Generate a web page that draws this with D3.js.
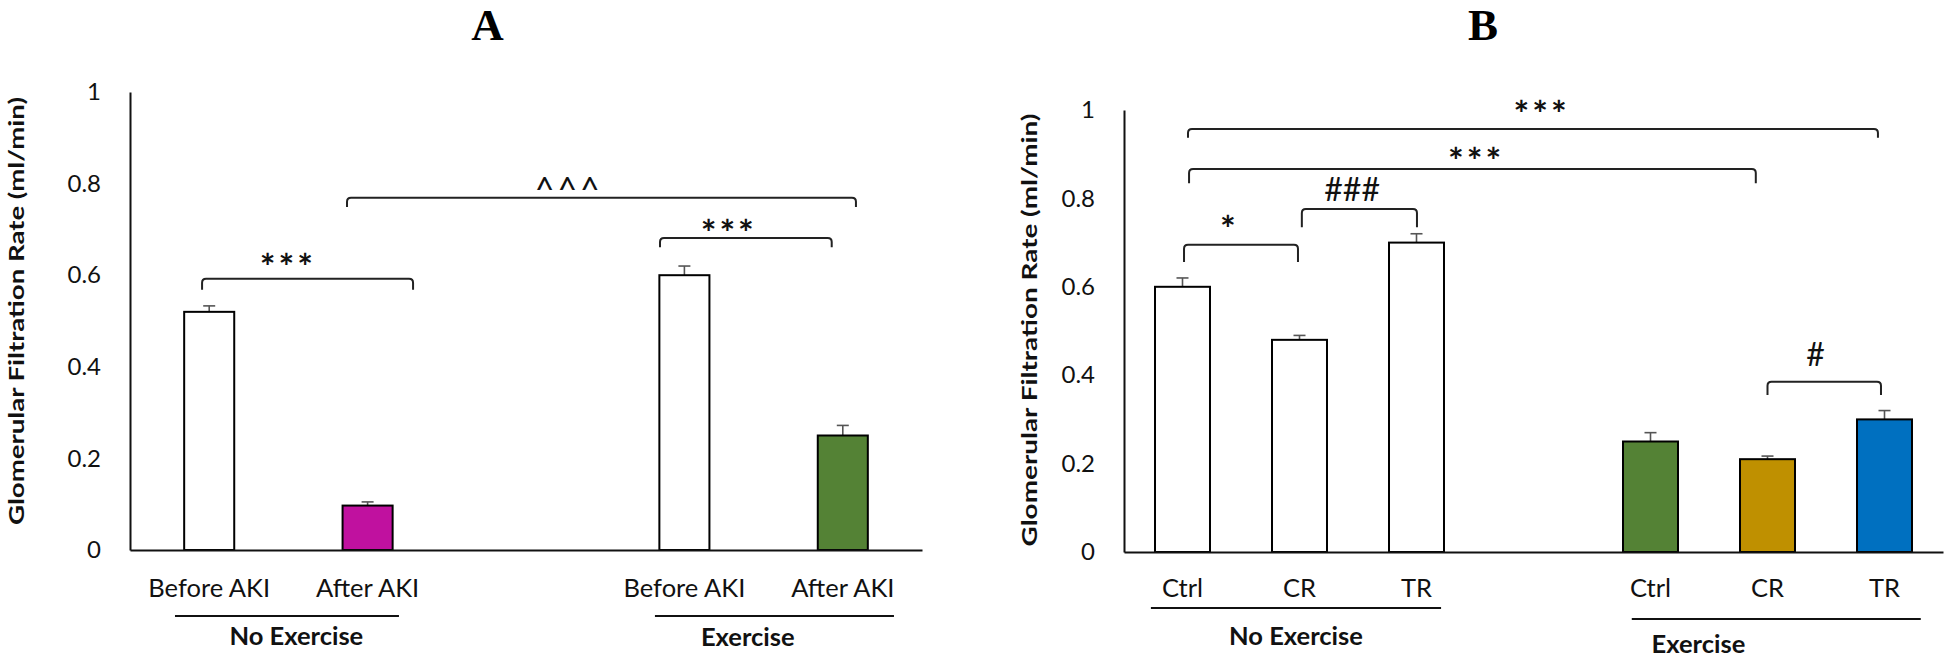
<!DOCTYPE html>
<html><head><meta charset="utf-8">
<script src="https://cdn.jsdelivr.net/npm/d3@7"></script>
<style>body{margin:0;background:#fff} svg{display:block}</style>
</head><body>
<svg id="chart" width="1946" height="659"></svg>
<script>
// ---------- Panel A data ----------
const slotsA  = ["NE_before","NE_after","gapA","EX_before","EX_after"];
const labelsA = ["Before AKI","After AKI","","Before AKI","After AKI"];
const valuesA = [0.52, 0.097, null, 0.60, 0.25];
const errorsA = [0.013, 0.008, null, 0.02, 0.022];
const colorsA = ["#FFFFFF","#C0119F",null,"#FFFFFF","#548235"];

// ---------- Panel B data ----------
const slotsB  = ["NE_ctrl","NE_cr","NE_tr","gapB","EX_ctrl","EX_cr","EX_tr"];
const labelsB = ["Ctrl","CR","TR","","Ctrl","CR","TR"];
const valuesB = [0.60, 0.48, 0.70, null, 0.25, 0.21, 0.30];
const errorsB = [0.02, 0.01, 0.02, null, 0.02, 0.007, 0.02];
const colorsB = ["#FFFFFF","#FFFFFF","#FFFFFF",null,"#548235","#BF9000","#0070C0"];

// ---------- shared axis ----------
const yTicks = [0, 0.2, 0.4, 0.6, 0.8, 1];
const yTickLabels = ["0","0.2","0.4","0.6","0.8","1"];
const yTitle = "Glomerular Filtration Rate (ml/min)";

// ---------- significance brackets (slot positions, values) ----------
const brLabelA = ["***", "^^^", "***"];
const brFromA  = [-0.045, 0.87, 2.846];
const brToA    = [1.287, 4.083, 3.93];
const brLevelA = [0.592, 0.769, 0.681];
const brDropA  = [0.024, 0.02, 0.02];
const brTextUA = [0.497, 2.27, 3.28];
const brTextVA = [0.638, 0.801, 0.712];

const brLabelB = ["***", "***", "###", "*", "#"];
const brFromB  = [0.047, 0.056, 1.02, 0.013, 5.0];
const brToB    = [5.944, 4.90, 2.004, 0.987, 5.97];
const brLevelB = [0.957, 0.8665, 0.776, 0.695, 0.385];
const brDropB  = [0.02, 0.032, 0.041, 0.039, 0.03];
const brTextUB = [3.07, 2.51, 1.45, 0.40, 5.41];
const brTextVB = [1.012, 0.905, 0.821, 0.751, 0.448];

// ---------- group labels ----------
const grpNamesA = ["No Exercise", "Exercise"];
const grpFromA  = [-0.216, 2.814];
const grpToA    = [1.198, 4.323];
const grpTextA  = [0.55, 3.4];

const grpNamesB = ["No Exercise", "Exercise"];
const grpFromB  = [-0.27, 3.84];
const grpToB    = [2.21, 6.31];
const grpTextB  = [0.97, 4.41];

const svg = d3.select("#chart");
const FONT = "Lato, 'Open Sans', sans-serif";

function drawPanel(o) {
  const g = svg.append("g");
  const n = o.slots.length;
  const x = d3.scaleBand().domain(o.slots).range([o.x0, o.x1]).paddingInner(0).paddingOuter(0);
  const u = d3.scaleLinear().domain([-0.5, n - 0.5]).range([o.x0, o.x1]);
  const y = d3.scaleLinear().domain([0, 1]).range([o.y0, o.y1]);
  const bw = x.bandwidth() * o.barFrac;

  const idx = d3.range(n).filter(i => o.values[i] != null);

  // error bars
  const eb = g.selectAll("g.eb").data(idx).join("g");
  eb.append("line")
    .attr("x1", i => x(o.slots[i]) + x.bandwidth()/2)
    .attr("x2", i => x(o.slots[i]) + x.bandwidth()/2)
    .attr("y1", i => y(o.values[i]))
    .attr("y2", i => y(o.values[i] + o.errors[i]))
    .attr("stroke", "#555").attr("stroke-width", 1.6);
  eb.append("line")
    .attr("x1", i => x(o.slots[i]) + x.bandwidth()/2 - 6)
    .attr("x2", i => x(o.slots[i]) + x.bandwidth()/2 + 6)
    .attr("y1", i => y(o.values[i] + o.errors[i]))
    .attr("y2", i => y(o.values[i] + o.errors[i]))
    .attr("stroke", "#555").attr("stroke-width", 1.6);

  // bars
  g.selectAll("rect.bar").data(idx).join("rect")
    .attr("x", i => x(o.slots[i]) + (x.bandwidth() - bw)/2)
    .attr("width", bw)
    .attr("y", i => y(o.values[i]))
    .attr("height", i => y(0) - y(o.values[i]))
    .attr("fill", i => o.colors[i])
    .attr("stroke", "#000").attr("stroke-width", 2);

  // y axis
  const ya = g.append("g").attr("transform", `translate(${o.x0},0)`)
    .call(d3.axisLeft(y).tickValues(yTicks).tickFormat((d,i) => yTickLabels[i])
      .tickSize(0).tickSizeOuter(0).tickPadding(29));
  ya.select(".domain").attr("stroke", "#111").attr("stroke-width", 2);
  ya.selectAll("text").attr("font-family", FONT).attr("font-size", 24).attr("fill", "#111");

  // x axis
  const xa = g.append("g").attr("transform", `translate(0,${o.y0})`)
    .call(d3.axisBottom(x).tickFormat((d,i) => o.labels[i]).tickSize(0).tickSizeOuter(0).tickPadding(o.xPad));
  xa.select(".domain").attr("stroke", "#111").attr("stroke-width", 2);
  xa.selectAll("text").attr("font-family", FONT).attr("font-size", 25.5).attr("fill", "#111");

  // y title
  g.append("text")
    .attr("transform", `translate(${o.titleX},${o.titleY}) rotate(-90)`)
    .attr("text-anchor", "middle").attr("dominant-baseline", "central")
    .attr("font-family", FONT).attr("font-weight", 700).attr("font-size", 20)
    .attr("textLength", o.titleLen).attr("lengthAdjust", "spacingAndGlyphs")
    .attr("fill", "#111").text(yTitle);

  // panel letter
  g.append("text").attr("x", o.letterX).attr("y", o.letterY)
    .attr("text-anchor", "middle")
    .attr("font-family", "'Liberation Serif', 'Times New Roman', serif")
    .attr("font-weight", 700).attr("font-size", 45).attr("fill", "#000").text(o.letter);

  // brackets
  o.brLabel.forEach((lab, i) => {
    const xa1 = u(o.brFrom[i]), xa2 = u(o.brTo[i]);
    const yl = y(o.brLevel[i]), yd = y(o.brLevel[i] - o.brDrop[i]);
    const r = 4;
    g.append("path")
      .attr("d", `M${xa1},${yd} L${xa1},${yl + r} Q${xa1},${yl} ${xa1 + r},${yl} L${xa2 - r},${yl} Q${xa2},${yl} ${xa2},${yl + r} L${xa2},${yd}`)
      .attr("fill", "none").attr("stroke", "#222").attr("stroke-width", 2);
    const isHash = lab.includes("#");
    const isStar = lab.includes("*");
    const fs = isHash ? 32 : (isStar ? 37 : 34);
    const k = isHash ? 0.36 : (isStar ? 0.6 : 0.56);
    g.append("text").attr("x", u(o.brTextU[i])).attr("y", y(o.brTextV[i]) + k * fs)
      .attr("text-anchor", "middle").attr("font-family", FONT)
      .attr("font-weight", isStar ? 700 : 400)
      .attr("font-size", fs).attr("letter-spacing", isHash ? 0 : 3).attr("fill", "#111").text(lab);
  });

  // groups
  o.grpNames.forEach((nm, i) => {
    g.append("line").attr("x1", u(o.grpFrom[i])).attr("x2", u(o.grpTo[i]))
      .attr("y1", o.grpLineY[i]).attr("y2", o.grpLineY[i])
      .attr("stroke", "#111").attr("stroke-width", 2);
    g.append("text").attr("x", u(o.grpText[i])).attr("y", o.grpTextY[i])
      .attr("text-anchor", "middle").attr("font-family", FONT).attr("font-weight", 700)
      .attr("font-size", 25.5).attr("fill", "#111").text(nm);
  });
}

drawPanel({
  slots: slotsA, labels: labelsA, values: valuesA, errors: errorsA, colors: colorsA,
  x0: 130, x1: 922, y0: 550, y1: 92, barFrac: 0.316, xPad: 29,
  titleX: 16, titleY: 311, titleLen: 428, letter: "A", letterX: 487.5, letterY: 40,
  brLabel: brLabelA, brFrom: brFromA, brTo: brToA, brLevel: brLevelA, brDrop: brDropA,
  brTextU: brTextUA, brTextV: brTextVA,
  grpNames: grpNamesA, grpFrom: grpFromA, grpTo: grpToA, grpText: grpTextA,
  grpLineY: [616, 616], grpTextY: [645, 646]
});

drawPanel({
  slots: slotsB, labels: labelsB, values: valuesB, errors: errorsB, colors: colorsB,
  x0: 1124, x1: 1943, y0: 552, y1: 110, barFrac: 0.47, xPad: 27,
  titleX: 1029, titleY: 330, titleLen: 433, letter: "B", letterX: 1483, letterY: 40,
  brLabel: brLabelB, brFrom: brFromB, brTo: brToB, brLevel: brLevelB, brDrop: brDropB,
  brTextU: brTextUB, brTextV: brTextVB,
  grpNames: grpNamesB, grpFrom: grpFromB, grpTo: grpToB, grpText: grpTextB,
  grpLineY: [608, 619], grpTextY: [645, 653]
});
</script>
</body></html>
